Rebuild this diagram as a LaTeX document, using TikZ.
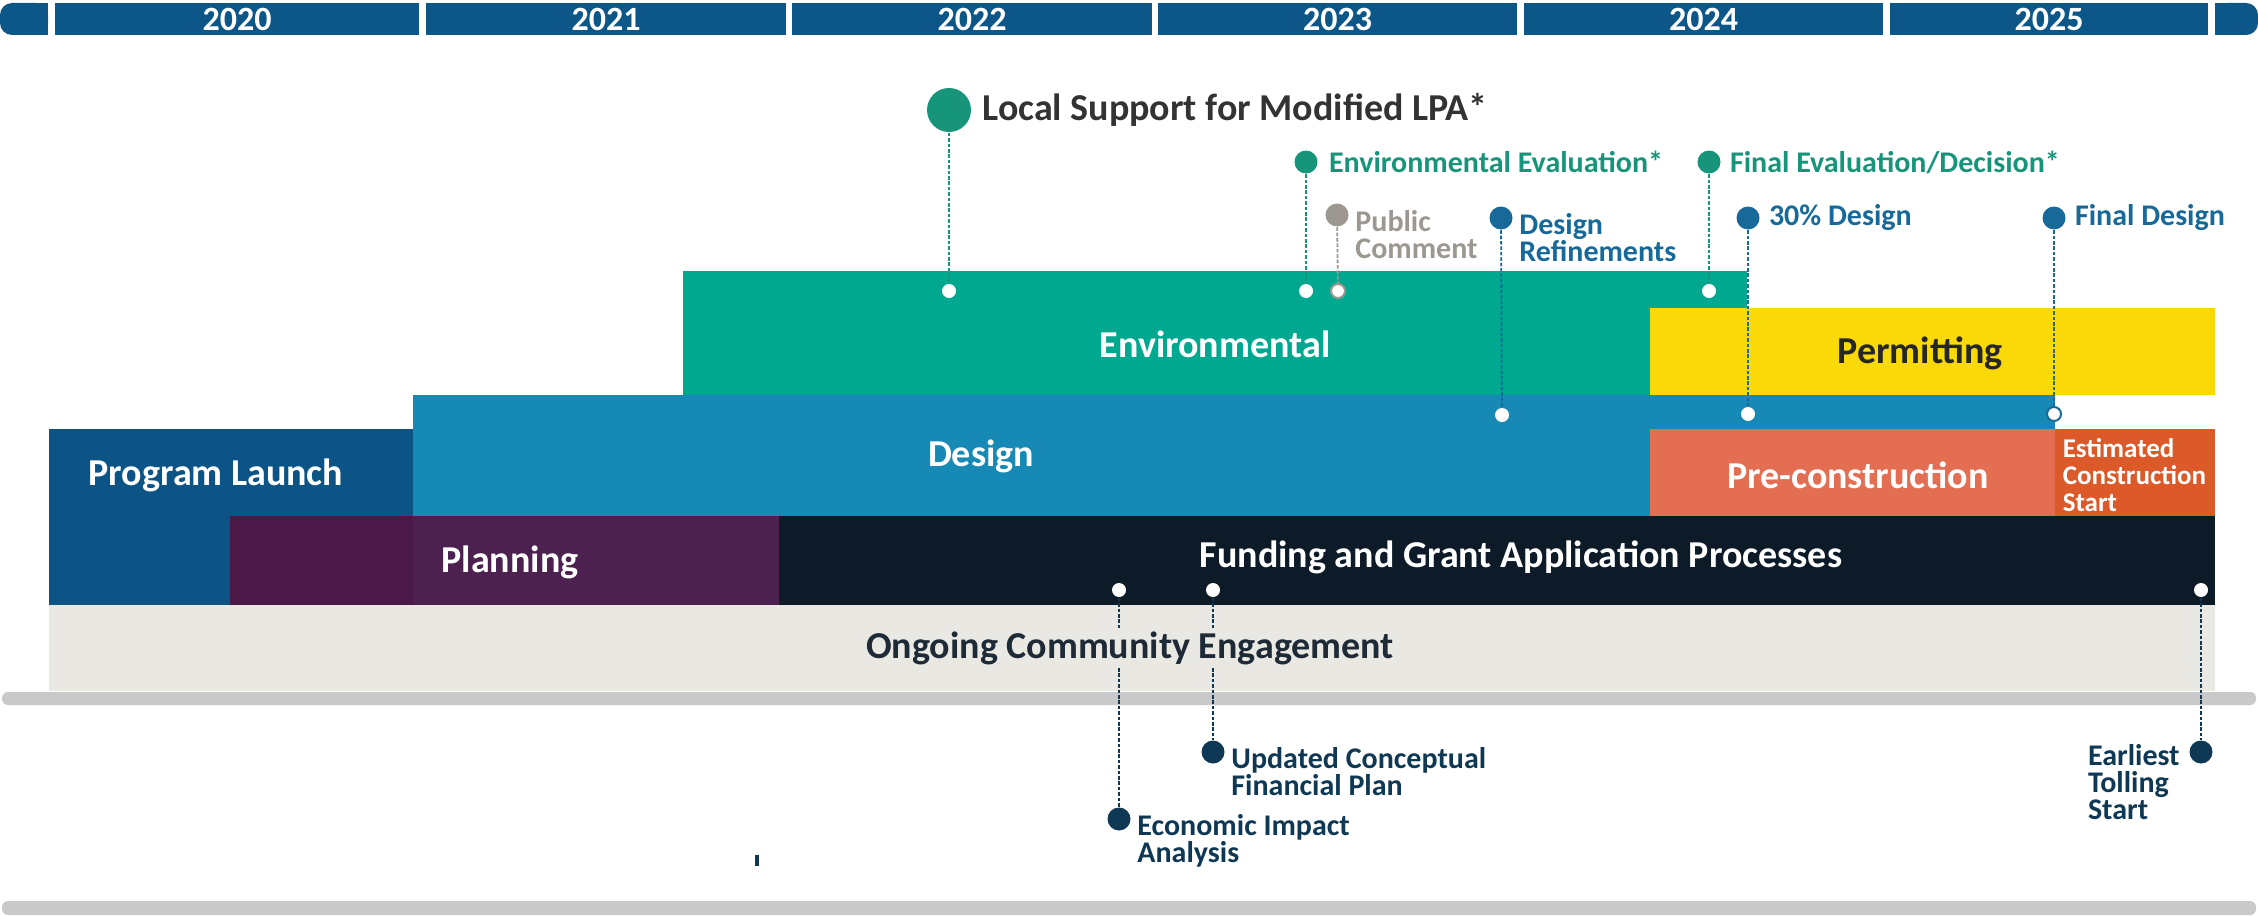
\documentclass[tikz,border=0pt]{standalone}
\usepackage{fontspec}
\setmainfont{Carlito}
\usetikzlibrary{positioning}

\definecolor{yearblue}{HTML}{0D5788}
\definecolor{envteal}{HTML}{00A88F}
\definecolor{msgreen}{HTML}{17957A}
\definecolor{permyellow}{HTML}{F9D907}
\definecolor{designblue}{HTML}{1789B5}
\definecolor{msblue}{HTML}{17699A}
\definecolor{precoral}{HTML}{E46E51}
\definecolor{estorange}{HTML}{DC5A2A}
\definecolor{launchblue}{HTML}{0D5486}
\definecolor{planpurple}{HTML}{4C2150}
\definecolor{planpurpledark}{HTML}{4A1948}
\definecolor{fundnavy}{HTML}{0D1B28}
\definecolor{ongoinggray}{HTML}{E9E8E3}
\definecolor{ongoingtext}{HTML}{1E2A36}
\definecolor{railgray}{HTML}{C9C9C9}
\definecolor{commentgray}{HTML}{9C9891}
\definecolor{finnavy}{HTML}{0E3853}
\definecolor{lpagray}{HTML}{333333}

\tikzset{every picture/.style={line width=0.75pt}}

\begin{document}
\begin{tikzpicture}[x=0.5pt,y=0.5pt,yscale=-1,xscale=1,
  yearlbl/.style={text=white,font=\bfseries\fontsize{17}{17}\selectfont},
  barlbl/.style={text=white,font=\bfseries\fontsize{19}{19}\selectfont},
  estlbl/.style={text=white,font=\bfseries\fontsize{13.5}{13.5}\selectfont,align=left,inner sep=0pt},
  mslbl/.style={font=\bfseries\fontsize{15}{13.5}\selectfont,align=left,inner sep=0pt},
  lpalbl/.style={text=lpagray,font=\bfseries\fontsize{19}{19}\selectfont,inner sep=0pt},
  bigdot/.style={circle,fill=msgreen,inner sep=0pt,minimum size=22pt},
  msdot/.style={circle,fill=#1,inner sep=0pt,minimum size=11.5pt},
  wdot/.style={circle,fill=white,inner sep=0pt,minimum size=7pt},
  link/.style={draw=#1,line width=0.9pt,dash pattern=on 1.8pt off 0.9pt},
]
%uncomment if require: \path (0,915); %set diagram left start at 0, and has height of 915
\useasboundingbox (0,0) rectangle (2258,915);

%Year bar
\fill[yearblue,rounded corners=6pt] (0,3) rectangle (48,35);
\fill[yearblue] (20,3) rectangle (48,35);
\foreach \yr/\xa/\xb in {2020/55/419,2021/426/786,2022/792/1152,2023/1158/1517,2024/1524/1883,2025/1890/2208}{
  \fill[yearblue] (\xa,3) rectangle (\xb,35);
  \node[yearlbl] (y\yr) at ({(\xa+\xb)/2},19) {\yr};
}
\fill[yearblue,rounded corners=6pt] (2215,3) rectangle (2258,35);
\fill[yearblue] (2215,3) rectangle (2238,35);

%Phase bars
\fill[envteal] (683,271) rectangle (1747,395);
\fill[permyellow] (1650,308) rectangle (2215,395);
\fill[designblue] (413,395) rectangle (2055,516);
\fill[precoral] (1650,429) rectangle (2055,516);
\fill[estorange] (2055,429) rectangle (2215,516);
\fill[launchblue] (49,429) rectangle (413,605);
\fill[planpurpledark] (230,516) rectangle (413,605);
\fill[planpurple] (413,516) rectangle (779,605);
\fill[fundnavy] (779,516) rectangle (2215,605);
\fill[ongoinggray] (49,605) rectangle (2215,691);

%Rails
\fill[railgray,rounded corners=3pt] (2,692) rectangle (2256,705);
\fill[railgray,rounded corners=3pt] (2,901) rectangle (2256,915);
\fill[finnavy] (755,855) rectangle (759,866);

% Text Node
\node[barlbl] (env) at (1215,344) {Environmental};
\node[barlbl,text=black!85] (perm) at (1920,353) {Permitting};
\node[barlbl] (des) at (981,456) {Design};
\node[barlbl] (launch) at (216,475) {Program Launch};
\node[barlbl] (precon) at (1858,475) {Pre-construction};
\node[estlbl,anchor=west] (est) at (2062,475) {Estimated\\Construction\\Start};
\node[barlbl] (plan) at (510,562) {Planning};
\node[barlbl] (fund) at (1521,557) {Funding and Grant Application Processes};

%Milestones above
\node[bigdot] (lpa) at (949,110) {};
\node[wdot] (lpab) at (949,291) {};
\draw[link=msgreen] (lpa) -- (lpab);
\node[lpalbl,right=5pt of lpa] (lpat) {Local Support for Modified LPA*};

\node[msdot=msgreen] (enve) at (1306,162) {};
\node[wdot] (enveb) at (1306,291) {};
\draw[link=msgreen] (enve) -- (enveb);
\node[mslbl,text=msgreen,right=5pt of enve] (envet) {Environmental Evaluation*};

\node[msdot=commentgray] (pc) at (1337,215) {};
\node[wdot,draw=commentgray,line width=1pt] (pcb) at (1338,291) {};
\draw[link=commentgray] (pc) -- (pcb);
\node[mslbl,text=commentgray,below right=1.5pt and 4.5pt of pc.north east] (pct) {Public\\Comment};

\node[msdot=msblue] (dr) at (1501,218) {};
\node[wdot] (drb) at (1502,415) {};
\draw[link=msblue] (dr) -- (drb);
\node[mslbl,text=msblue,below right=1.5pt and 4.5pt of dr.north east] (drt) {Design\\Refinements};

\node[msdot=msgreen] (fe) at (1709,162) {};
\node[wdot] (feb) at (1709,291) {};
\draw[link=msgreen] (fe) -- (feb);
\node[mslbl,text=msgreen,right=4pt of fe] (fet) {Final Evaluation/Decision*};

\node[msdot=msblue] (d30) at (1748,218) {};
\node[wdot] (d30b) at (1748,414) {};
\draw[link=msblue] (d30) -- (d30b);
\node[mslbl,text=msblue,right=4pt of d30] (d30t) {30\% Design};

\node[msdot=msblue] (fd) at (2054,218) {};
\node[wdot,draw=msblue,line width=1pt] (fdb) at (2054,414) {};
\draw[link=msblue] (fd) -- (fdb);
\node[mslbl,text=msblue,right=4pt of fd] (fdt) {Final Design};

%Milestones below
\node[wdot] (eia) at (1119,590) {};
\node[msdot=finnavy] (eiab) at (1119,819) {};
\draw[link=finnavy] (eia) -- (eiab);
\node[mslbl,text=finnavy,below right=1.5pt and 4.5pt of eiab.north east] (eiat) {Economic Impact\\Analysis};

\node[wdot] (ucf) at (1213,590) {};
\node[msdot=finnavy] (ucfb) at (1213,752) {};
\draw[link=finnavy] (ucf) -- (ucfb);
\node[mslbl,text=finnavy,below right=1.5pt and 4.5pt of ucfb.north east] (ucft) {Updated Conceptual\\Financial Plan};

\node[wdot] (ets) at (2201,590) {};
\node[msdot=finnavy] (etsb) at (2201,752) {};
\draw[link=finnavy] (ets) -- (etsb);
\node[mslbl,text=finnavy,below left=0pt and 6pt of etsb.north west] (etst) {Earliest\\Tolling\\Start};

% Text Node
\node[barlbl,text=ongoingtext,fill=ongoinggray,inner sep=1pt] (ongo) at (1130,648) {Ongoing Community Engagement};

\end{tikzpicture}
\end{document}
